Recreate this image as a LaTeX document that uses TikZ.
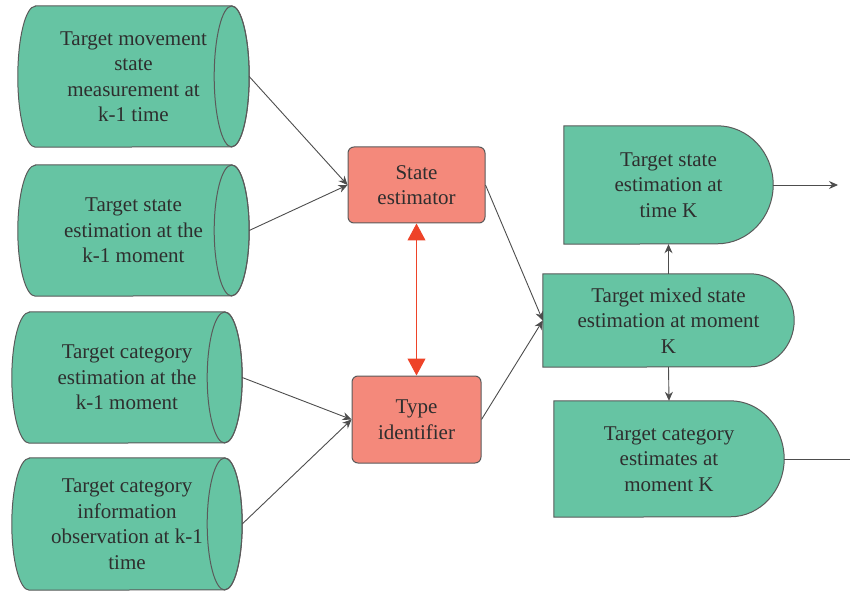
\documentclass[tikz,border=0pt]{standalone}
\usepackage{fontspec}
\setmainfont{Liberation Serif}
\usetikzlibrary{arrows.meta,backgrounds}

\definecolor{boxgreen}{HTML}{66C4A3}
\definecolor{boxred}{HTML}{F4897B}
\definecolor{linkred}{HTML}{EE4328}
\definecolor{edgegray}{HTML}{5A5A5A}
\definecolor{inkgray}{HTML}{2E2E2E}

\tikzset{
  label/.style={draw=none, inner sep=0pt, align=center, text=inkgray,
    font=\fontsize{21}{25.5}\selectfont},
  procbox/.style={label, draw=edgegray, line width=1pt, fill=boxred, rounded corners=6pt},
  shapefill/.style={fill=boxgreen, draw=edgegray, line width=1pt},
  flow/.style={draw=inkgray!85, line width=0.9pt, -{Stealth[length=9pt,width=8pt]}},
  plainflow/.style={draw=inkgray!85, line width=0.9pt},
  biflow/.style={draw=linkred, line width=1pt,
    {Triangle[length=17pt,width=18pt]}-{Triangle[length=17pt,width=18pt]}},
}

% horizontal cylinder body around a node, visible end on the right
\newcommand\drawcyl[2]{%
  \path[shapefill] ([xshift=17.5pt]#1.north west) -- ([xshift=-17.5pt]#1.north east)
    arc[start angle=90,end angle=-90,x radius=17.5pt,y radius=#2]
    -- ([xshift=17.5pt]#1.south west)
    arc[start angle=270,end angle=90,x radius=17.5pt,y radius=#2] -- cycle;
  \draw[edgegray, line width=1pt] ([xshift=-17.5pt]#1.east) ellipse[x radius=17.5pt,y radius=#2];
}
% delay shape: flat left side, rounded right side
\newcommand\drawdee[3]{%
  \path[shapefill] (#1.north west) -- ([xshift=-#2]#1.north east)
    arc[start angle=90,end angle=-90,x radius=#2,y radius=#3]
    -- (#1.south west) -- cycle;
}

\begin{document}
\begin{tikzpicture}[x=1pt,y=1pt]
\useasboundingbox (0,0) rectangle (850,592);

% inputs at time k-1
\node[label, minimum width=231pt, minimum height=141pt] (meas) at (133.5,515.5)
  {Target movement\\state\\measurement at\\k-1 time};
\node[label, minimum width=231pt, minimum height=131pt] (stprev) at (133.5,361.5)
  {Target state\\estimation at the\\k-1 moment};
\node[label, minimum width=230pt, minimum height=131pt] (catprev) at (127,214.5)
  {Target category\\estimation at the\\k-1 moment};
\node[label, minimum width=230pt, minimum height=132pt] (catobs) at (127,68)
  {Target category\\information\\observation at k-1\\time};

% processing blocks
\node[procbox, minimum width=137pt, minimum height=76pt] (est) at (416.5,407)
  {State\\estimator};
\node[procbox, minimum width=129pt, minimum height=87pt] (ident) at (416.5,172.5)
  {Type\\identifier};

% outputs at time K
\node[label, minimum width=209pt, minimum height=118pt] (stK) at (668.5,407)
  {Target state\\estimation at\\time K};
\node[label, minimum width=251pt, minimum height=93pt] (mix) at (668.5,271.5)
  {Target mixed state\\estimation at moment\\K};
\node[label, minimum width=230pt, minimum height=116pt] (catK) at (669,133)
  {Target category\\estimates at\\moment K};

\coordinate (outA) at (838,407);
\coordinate (outB) at (850,133);

\begin{scope}[on background layer]
  \drawcyl{meas}{70.5pt}
  \drawcyl{stprev}{65.5pt}
  \drawcyl{catprev}{65.5pt}
  \drawcyl{catobs}{66pt}
  \drawdee{stK}{56pt}{59pt}
  \drawdee{mix}{44pt}{46.5pt}
  \drawdee{catK}{54pt}{58pt}
\end{scope}

% connectors
\draw[flow] (meas.east) -- (est.west);
\draw[flow] (stprev.east) -- (est.west);
\draw[flow] (catprev.east) -- (ident.west);
\draw[flow] (catobs.east) -- (ident.west);
\draw[flow] (est.east) -- (mix.west);
\draw[flow] (ident.east) -- (mix.west);
\draw[biflow] (est.south) -- (ident.north);
\draw[flow] (mix.north) -- (stK.south);
\draw[flow] (mix.south) -- (catK.north);
\draw[flow] (stK.east) -- (outA);
\draw[plainflow] (catK.east) -- (outB);
\end{tikzpicture}
\end{document}
